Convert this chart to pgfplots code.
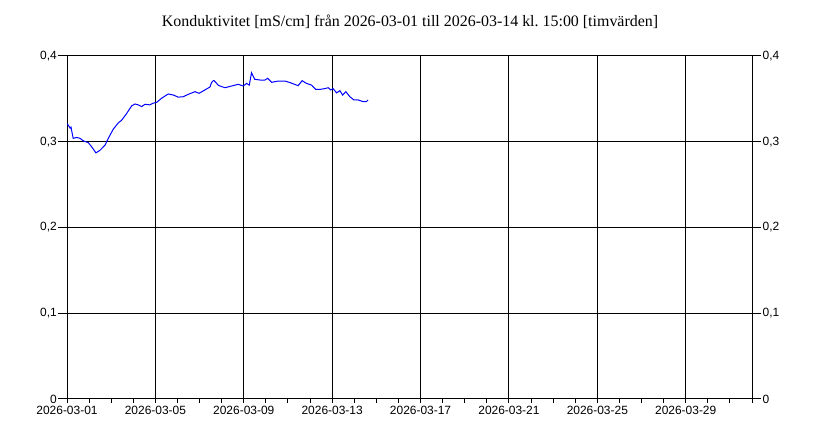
\documentclass[border=0pt]{standalone}
\usepackage{pgfplots}
\pgfplotsset{compat=1.18}
\usepackage{fontspec}
\setmainfont{Liberation Sans}
\newfontfamily\serifft{Liberation Serif}
\frenchspacing
\begin{document}
\begin{tikzpicture}[x=1bp,y=1bp]
\useasboundingbox (0,0) rectangle (820,444);
\node[anchor=base, inner sep=0pt, font=\serifft\fontsize{16}{18}\selectfont] at (410,417) {Konduktivitet [mS/cm] från 2026-03-01 till 2026-03-14 kl.\ 15:00 [timvärden]};
\pgfplotsset{base/.style={at={(67bp,45bp)}, anchor=south west, scale only axis,
  width=685bp, height=343bp, xmin=0, xmax=31, ymin=0, ymax=0.4,
  axis line style={black, line width=1bp}, tick style={black, line width=1bp},
  ticklabel style={font=\fontsize{12}{14}\selectfont},
  /pgf/number format/assume math mode=true, /pgf/number format/use comma,
  tick align=outside, grid style={black, line width=1bp}}}
\begin{axis}[base,
  xtick={0,4,8,12,16,20,24,28},
  xticklabels={2026-03-01,2026-03-05,2026-03-09,2026-03-13,2026-03-17,2026-03-21,2026-03-25,2026-03-29},
  minor xtick={1,2,3,5,6,7,9,10,11,13,14,15,17,18,19,21,22,23,25,26,27,29,30,31},
  xtick pos=left, xmajorgrids, major tick length=4bp, minor tick length=4bp,
  ytick=\empty]
\end{axis}
\begin{axis}[base, xtick=\empty,
  ytick={0,0.1,0.2,0.3,0.4}, ytick pos=left, yticklabel pos=left,
  ymajorgrids, major tick length=9bp,
  yticklabel style={inner sep=1bp}]
\end{axis}
\begin{axis}[base, xtick=\empty,
  ytick={0,0.1,0.2,0.3,0.4}, ytick pos=right, yticklabel pos=right,
  major tick length=9bp, yticklabel style={inner sep=1.5bp}]
\addplot[blue, line width=1bp] coordinates {
(0.01,0.321) (0.14,0.316) (0.18,0.317) (0.28,0.304) (0.44,0.305) (0.59,0.304)
(0.74,0.301) (0.96,0.299) (1.12,0.294) (1.31,0.287) (1.49,0.290) (1.72,0.296)
(1.87,0.304) (2.09,0.3145) (2.32,0.322) (2.47,0.325) (2.70,0.333) (2.93,0.342)
(3.08,0.344) (3.22,0.343) (3.38,0.341) (3.53,0.3437) (3.75,0.343) (3.90,0.345)
(4.06,0.346) (4.28,0.3507) (4.58,0.3557) (4.81,0.3545) (5.03,0.352) (5.26,0.3525)
(5.49,0.3553) (5.79,0.3584) (5.98,0.3565) (6.24,0.3604) (6.47,0.3638) (6.54,0.369)
(6.62,0.3712) (6.66,0.3712) (6.74,0.369) (6.84,0.366) (6.92,0.365) (7.15,0.363)
(7.45,0.365) (7.75,0.367) (7.97,0.365) (8.13,0.368) (8.25,0.366) (8.35,0.3805)
(8.50,0.3728) (8.73,0.372) (8.96,0.372) (9.08,0.374) (9.26,0.3693) (9.56,0.3708)
(9.86,0.3708) (10.09,0.369) (10.46,0.3654) (10.64,0.3712) (10.84,0.368) (11.07,0.366)
(11.26,0.361) (11.44,0.361) (11.67,0.362) (11.82,0.363) (11.94,0.3604) (12.04,0.362)
(12.20,0.357) (12.35,0.3596) (12.47,0.3545) (12.62,0.3584) (12.80,0.3525) (12.98,0.3488)
(13.17,0.3488) (13.40,0.3468) (13.55,0.3468) (13.625,0.3488)
};
\end{axis}
\end{tikzpicture}
\end{document}
